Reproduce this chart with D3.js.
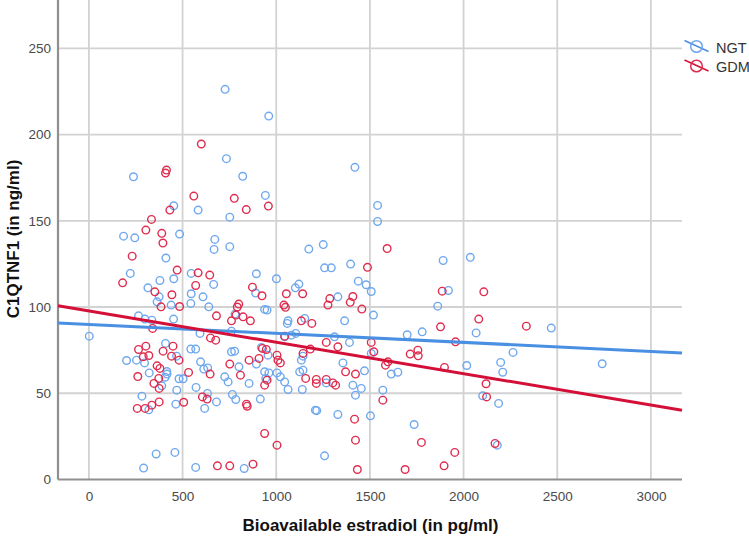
<!DOCTYPE html>
<html>
<head>
<meta charset="utf-8">
<script src="https://cdn.jsdelivr.net/npm/d3@7"></script>
<style>
  html, body { margin: 0; padding: 0; background: #fff; }
  svg { display: block; }
</style>
</head>
<body>
<svg id="chart" width="749" height="540"></svg>
<script>
// ---------- data ----------
const seriesNames = ["NGT", "GDM"];

const ngtX = [727,960,734,1420,821,238,942,453,583,1541,752,1541,185,245,484,672,752,1174,1251,668,
  411,221,546,453,379,666,315,546,609,375,1258,1294,1397,1438,1480,1507,894,1001,890,1102,
  1121,1329,1891,2036,1919,2,364,439,544,640,265,299,336,452,593,254,201,297,409,468,
  544,570,596,634,613,322,416,417,407,481,503,389,469,572,283,633,681,320,464,618,
  359,459,292,570,780,938,951,1063,1059,1152,1519,1365,761,1045,1081,1104,761,778,921,956,
  894,801,1143,1134,1311,1391,1507,1356,1471,725,743,855,938,961,1004,1022,944,1045,1063,1125,
  1143,1139,1267,1409,1454,1423,766,784,915,1209,1216,1329,1503,1258,829,1862,1779,1699,2067,2264,
  2017,2198,2209,1649,1614,1569,2102,2187,1736,2180,2468,2740];
const ngtY = [226.2,210.7,186.0,181.0,175.8,175.5,164.7,158.7,156.2,158.9,152.1,149.6,141.1,140.1,142.3,139.2,135.0,133.6,136.2,133.4,
  128.4,119.5,119.5,116.4,115.4,113.1,111.1,107.7,105.9,105.9,122.7,122.7,124.9,115.0,112.9,109.0,119.3,116.4,108.1,111.1,
  113.3,105.9,127.0,128.8,109.6,83.1,103.0,101.1,102.1,100.1,94.9,93.0,92.4,93.0,84.7,69.2,69.0,67.6,78.9,71.5,
  75.6,75.6,68.2,64.7,64.0,61.8,62.6,61.1,59.3,58.4,58.4,54.3,51.8,53.4,48.3,49.9,45.0,40.4,43.7,41.2,
  14.8,15.7,6.6,7.0,95.9,98.6,98.2,92.0,90.5,93.4,95.3,92.0,86.0,82.7,83.7,84.7,74.0,74.4,76.6,72.1,
  66.9,65.3,71.5,69.2,82.7,79.5,73.1,67.6,63.0,59.5,56.6,55.7,62.4,61.8,61.8,59.5,58.6,56.6,52.2,62.4,
  63.4,52.2,56.0,54.7,52.8,48.9,49.3,46.4,46.6,40.2,39.9,37.7,36.9,13.7,6.4,100.5,85.6,83.9,85.0,73.7,
  66.1,67.9,62.2,62.2,61.1,51.8,48.5,44.1,31.9,19.9,87.8,67.1];

const gdmX = [600,414,409,560,432,334,304,389,395,231,471,583,645,180,570,352,443,776,840,958,
  1592,1487,873,924,1054,1141,1286,1409,1395,1886,2108,385,484,681,340,649,677,265,304,290,
  320,449,396,441,481,647,364,379,532,261,373,347,375,606,631,258,300,336,375,506,
  686,800,792,761,785,823,862,1041,1049,1134,1190,1276,1457,1045,926,947,908,855,1004,1009,
  1022,752,1143,1182,1267,1329,1507,1521,1370,1423,809,951,938,1157,1214,1214,1267,1302,1317,841,
  845,1418,938,1004,1423,752,876,1433,2081,2335,1877,1957,1756,1715,1758,1898,1596,1583,2120,1569,
  2123,1775,2168,1953,1896,1688];
const gdmY = [194.5,179.4,177.7,164.3,156.2,150.8,144.6,142.7,137.1,129.5,121.4,119.8,118.5,114.0,112.5,108.8,107.1,163.0,156.5,158.5,
  133.9,123.0,111.5,106.5,107.7,107.7,104.9,106.1,102.7,109.2,108.8,100.1,100.3,94.9,87.6,82.1,80.8,75.4,77.3,71.1,
  71.9,77.3,74.4,71.5,69.2,61.1,65.9,64.4,62.1,59.7,58.6,55.7,52.8,47.9,46.6,41.2,41.2,43.1,45.0,44.8,
  7.9,101.7,100.0,92.0,95.3,94.3,92.0,101.1,99.8,92.0,90.5,101.1,98.8,83.1,76.0,75.4,70.2,69.2,72.1,69.2,
  67.6,66.9,73.1,75.6,79.5,76.9,79.5,74.0,62.4,61.1,60.5,57.6,54.7,58.6,58.0,55.7,58.0,56.0,54.7,43.7,
  42.5,35.0,26.7,19.9,22.8,7.9,8.9,5.8,93.0,88.9,88.5,79.8,75.0,72.7,71.7,65.0,68.2,66.3,55.5,46.0,
  47.9,21.5,20.9,15.7,7.9,5.8];

// linear fit lines: [intercept, slope]
const ngtFit = [89.94, -0.005224];
const gdmFit = [97.70, -0.018163];

const xTicks = [0, 500, 1000, 1500, 2000, 2500, 3000];
const yTicks = [0, 50, 100, 150, 200, 250];
const xDomain = [-165, 3166];
const yDomain = [0, 278];

const xTitle = "Bioavailable estradiol (in pg/ml)";
const yTitle = "C1QTNF1 (in ng/ml)";

// ---------- styling ----------
const colPointNGT = "#6fa8ef";
const colPointGDM = "#df2c4e";
const colLineNGT = "#4a90e2";
const colLineGDM = "#d40f38";

const svg = d3.select("#chart");
const padL = 58, padR = 682, padT = 0, padB = 479.5;

const x = d3.scaleLinear().domain(xDomain).range([padL, padR]);
const y = d3.scaleLinear().domain(yDomain).range([padB, padT]);

// gridlines
const grid = svg.append("g");
grid.selectAll("line.v").data(xTicks).join("line").attr("class", "v")
  .attr("x1", d => x(d)).attr("x2", d => x(d))
  .attr("y1", padT).attr("y2", padB)
  .attr("stroke", "#d2d2d2").attr("stroke-width", 1.8);
grid.selectAll("line.h").data(yTicks.filter(d => d > 0)).join("line").attr("class", "h")
  .attr("x1", padL).attr("x2", padR)
  .attr("y1", d => y(d)).attr("y2", d => y(d))
  .attr("stroke", "#d2d2d2").attr("stroke-width", 1.8);

// axes
const xAxis = d3.axisBottom(x).tickValues(xTicks).tickSize(0).tickPadding(12).tickFormat(d3.format("d"));
const yAxis = d3.axisLeft(y).tickValues(yTicks).tickSize(0).tickPadding(7).tickFormat(d3.format("d"));

const gx = svg.append("g").attr("transform", `translate(0,${padB})`).call(xAxis);
const gy = svg.append("g").attr("transform", `translate(${padL},0)`).call(yAxis);
[gx, gy].forEach(g => {
  g.select(".domain").remove();
  g.selectAll("text").attr("font-family", "Arial, 'Liberation Sans', sans-serif")
    .attr("font-size", 13.5).attr("fill", "#4a4a4a");
});

svg.append("line").attr("x1", padL).attr("x2", padL).attr("y1", padT).attr("y2", padB)
  .attr("stroke", "#8f8f8f").attr("stroke-width", 2.2);
svg.append("line").attr("x1", padL).attr("x2", padR).attr("y1", padB).attr("y2", padB)
  .attr("stroke", "#8f8f8f").attr("stroke-width", 2.2);

// points
const ngt = ngtX.map((v, i) => ({ x: v, y: ngtY[i] }));
const gdm = gdmX.map((v, i) => ({ x: v, y: gdmY[i] }));

svg.append("g").selectAll("circle").data(ngt).join("circle")
  .attr("cx", d => x(d.x)).attr("cy", d => y(d.y)).attr("r", 3.8)
  .attr("fill", "none").attr("stroke", colPointNGT).attr("stroke-width", 1.4);
svg.append("g").selectAll("circle").data(gdm).join("circle")
  .attr("cx", d => x(d.x)).attr("cy", d => y(d.y)).attr("r", 3.8)
  .attr("fill", "none").attr("stroke", colPointGDM).attr("stroke-width", 1.4);

// fit lines
const fitLine = (fit, col) => {
  const pts = xDomain.map(v => [v, fit[0] + fit[1] * v]);
  svg.append("path")
    .attr("d", d3.line().x(d => x(d[0])).y(d => y(d[1]))(pts))
    .attr("stroke", col).attr("stroke-width", 3).attr("fill", "none");
};
fitLine(ngtFit, colLineNGT);
fitLine(gdmFit, colLineGDM);

// titles
svg.append("text").attr("x", 370.5).attr("y", 531)
  .attr("text-anchor", "middle")
  .attr("font-family", "Arial, 'Liberation Sans', sans-serif")
  .attr("font-weight", "bold").attr("font-size", 17).attr("fill", "#111")
  .text(xTitle);
svg.append("text")
  .attr("transform", "translate(19,239) rotate(-90)")
  .attr("text-anchor", "middle")
  .attr("font-family", "Arial, 'Liberation Sans', sans-serif")
  .attr("font-weight", "bold").attr("font-size", 17).attr("fill", "#111")
  .text(yTitle);

// legend
const legCols = [[colPointNGT, colLineNGT], [colPointGDM, colLineGDM]];
const leg = svg.append("g");
seriesNames.forEach((name, i) => {
  const cy = 46.5 + i * 19.5, cx = 696.5;
  leg.append("line").attr("x1", cx - 12).attr("y1", cy - 6).attr("x2", cx + 12).attr("y2", cy + 5)
    .attr("stroke", legCols[i][1]).attr("stroke-width", 1.5);
  leg.append("circle").attr("cx", cx).attr("cy", cy).attr("r", 5.8)
    .attr("fill", "none").attr("stroke", legCols[i][0]).attr("stroke-width", 1.5);
  leg.append("text").attr("x", 716).attr("y", cy + 6)
    .attr("font-family", "Arial, 'Liberation Sans', sans-serif")
    .attr("font-size", 14.5).attr("fill", "#333").text(name);
});
</script>
</body>
</html>
